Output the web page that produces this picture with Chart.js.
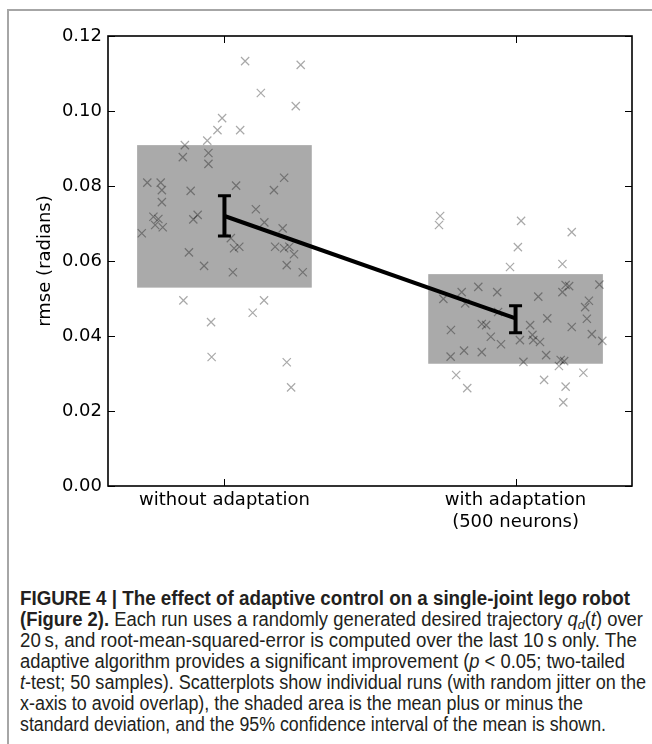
<!DOCTYPE html>
<html><head><meta charset="utf-8">
<script src="https://cdn.jsdelivr.net/npm/chart.js@4/dist/chart.umd.min.js"></script>
<style>
html,body{margin:0;padding:0;background:#fff;}
body{width:652px;height:744px;position:relative;overflow:hidden;}
#frame{position:absolute;left:7px;top:9px;width:700px;height:800px;border-left:2px solid #a6a6a6;border-top:2px solid #a6a6a6;}
#wrap{position:absolute;left:0;top:0;width:652px;height:540px;}
.cap{position:absolute;left:20px;white-space:nowrap;font-family:"Liberation Sans",Arial,sans-serif;font-size:19.5px;line-height:22px;color:#231f20;transform-origin:0 50%;}
.cap sub{font-size:13px;vertical-align:-3px;line-height:0;}
</style></head>
<body>
<div id="frame"></div>
<div id="wrap"><canvas id="c" width="652" height="540"></canvas></div>
<div class="cap" data-w="610" style="top:587px"><b>FIGURE 4 | The effect of adaptive control on a single-joint lego robot</b></div>
<div class="cap" data-w="623" style="top:608px"><b>(Figure 2).</b> Each run uses a randomly generated desired trajectory <i>q<sub>d</sub></i>(<i>t</i>) over</div>
<div class="cap" data-w="617" style="top:629px">20&#8201;s, and root-mean-squared-error is computed over the last 10&#8201;s only. The</div>
<div class="cap" data-w="605" style="top:650px">adaptive algorithm provides a significant improvement (<i>p</i> &lt; 0.05; two-tailed</div>
<div class="cap" data-w="626" style="top:671px"><i>t</i>-test; 50 samples). Scatterplots show individual runs (with random jitter on the</div>
<div class="cap" data-w="563" style="top:692px">x-axis to avoid overlap), the shaded area is the mean plus or minus the</div>
<div class="cap" data-w="586" style="top:713px">standard deviation, and the 95% confidence interval of the mean is shown.</div>
<script>
// ---- data ----
const categories = ["without adaptation", ["with adaptation", "(500 neurons)"]];
const yTicks = [0.00, 0.02, 0.04, 0.06, 0.08, 0.10, 0.12];

const meanRmse = [0.0720, 0.0447];
const sdLow    = [0.0529, 0.0326];
const sdHigh   = [0.0909, 0.0565];
const ciLow    = [0.0667, 0.0409];
const ciHigh   = [0.0774, 0.0481];

// individual runs: x jitter (relative to category) and rmse
const withoutJitter = [0.071,0.262,0.125,0.245,-0.008,-0.024,0.054,-0.059,-0.136,-0.143,-0.055,-0.055,-0.265,-0.219,-0.215,-0.116,0.040,0.170,0.205,-0.215,0.108,-0.244,-0.227,-0.238,-0.212,-0.107,-0.092,0.137,0.200,-0.284,0.022,0.033,0.051,-0.122,-0.070,0.029,0.174,0.205,0.223,0.239,0.214,0.269,-0.141,0.136,0.097,-0.046,-0.044,0.214,0.229];
const withoutRmse   = [0.1133,0.1123,0.1048,0.1013,0.0981,0.0949,0.0949,0.0921,0.0909,0.0877,0.0888,0.0859,0.0809,0.0809,0.0789,0.0787,0.0801,0.0789,0.0822,0.0757,0.0738,0.0718,0.0712,0.0696,0.0690,0.0711,0.0723,0.0703,0.0687,0.0674,0.0661,0.0634,0.0638,0.0623,0.0587,0.0570,0.0638,0.0634,0.0638,0.0618,0.0589,0.0570,0.0495,0.0495,0.0462,0.0437,0.0344,0.0330,0.0263];
const withJitter = [-0.259,-0.263,0.019,0.193,0.008,-0.019,0.161,0.172,0.184,0.161,0.288,-0.128,-0.185,-0.248,-0.063,0.078,-0.173,0.252,0.239,0.245,0.109,0.193,0.050,-0.116,-0.101,-0.222,-0.085,-0.050,0.015,0.058,0.061,0.084,0.262,0.298,-0.223,-0.177,-0.116,0.105,0.027,0.155,0.167,0.149,0.233,-0.204,-0.166,0.098,0.172,0.164,-0.060];
const withRmse   = [0.0720,0.0696,0.0707,0.0677,0.0637,0.0584,0.0592,0.0536,0.0533,0.0517,0.0537,0.0531,0.0517,0.0499,0.0517,0.0505,0.0487,0.0494,0.0477,0.0446,0.0447,0.0424,0.0429,0.0432,0.0429,0.0416,0.0398,0.0378,0.0389,0.0403,0.0389,0.0384,0.0405,0.0387,0.0345,0.0361,0.0357,0.0349,0.0331,0.0336,0.0333,0.0320,0.0302,0.0296,0.0261,0.0283,0.0265,0.0223,0.0464];

// ---- build ----
const pts = (jit, vals, c) => jit.map((j, i) => ({x: c + j, y: vals[i]}));
const FONT = {family: "'DejaVu Sans', sans-serif", size: 18};
const BOX_HALF = 0.3;

const decorPlugin = {
  id: 'decor',
  beforeDatasetsDraw(chart) {
    const {ctx, scales: {x, y}} = chart;
    ctx.save();
    ctx.fillStyle = '#aaaaaa';
    meanRmse.forEach((m, i) => {
      const x0 = x.getPixelForValue(i - BOX_HALF), x1 = x.getPixelForValue(i + BOX_HALF);
      const y0 = y.getPixelForValue(sdHigh[i]), y1 = y.getPixelForValue(sdLow[i]);
      ctx.fillRect(x0, y0, x1 - x0, y1 - y0);
    });
    ctx.restore();
  },
  afterDatasetsDraw(chart) {
    const {ctx, scales: {x, y}} = chart;
    ctx.save();
    ctx.strokeStyle = '#000';
    meanRmse.forEach((m, i) => {
      const px = x.getPixelForValue(i);
      const yt = y.getPixelForValue(ciHigh[i]), yb = y.getPixelForValue(ciLow[i]);
      ctx.lineWidth = 4;
      ctx.beginPath(); ctx.moveTo(px, yt); ctx.lineTo(px, yb); ctx.stroke();
      ctx.lineWidth = 3;
      ctx.beginPath();
      ctx.moveTo(px - 6.5, yt); ctx.lineTo(px + 6.5, yt);
      ctx.moveTo(px - 6.5, yb); ctx.lineTo(px + 6.5, yb);
      ctx.stroke();
    });
    ctx.restore();
  },
  afterDraw(chart) {
    const {ctx, chartArea: a, scales: {x, y}} = chart;
    ctx.save();
    ctx.strokeStyle = '#000';
    ctx.lineWidth = 1.6;
    ctx.strokeRect(a.left, a.top, a.right - a.left, a.bottom - a.top);
    ctx.lineWidth = 1;
    ctx.beginPath();
    yTicks.forEach(v => {
      const py = Math.round(y.getPixelForValue(v)) + 0.5;
      ctx.moveTo(a.left, py); ctx.lineTo(a.left + 7, py);
      ctx.moveTo(a.right, py); ctx.lineTo(a.right - 7, py);
    });
    meanRmse.forEach((m, i) => {
      const px = Math.round(x.getPixelForValue(i)) + 0.5;
      ctx.moveTo(px, a.bottom); ctx.lineTo(px, a.bottom - 7);
      ctx.moveTo(px, a.top); ctx.lineTo(px, a.top + 7);
    });
    ctx.stroke();
    ctx.restore();
  }
};

const markerStyle = {
  pointStyle: 'crossRot', pointRadius: 5.8, pointBorderWidth: 1.2,
  borderColor: 'rgba(0,0,0,0.34)', backgroundColor: 'rgba(0,0,0,0.34)', showLine: false
};

new Chart(document.getElementById('c'), {
  type: 'scatter',
  data: {
    datasets: [
      {data: meanRmse.map((m, i) => ({x: i, y: m})), showLine: true, borderColor: '#000',
       borderWidth: 4, pointRadius: 0, order: 0},
      Object.assign({data: pts(withoutJitter, withoutRmse, 0), order: 1}, markerStyle),
      Object.assign({data: pts(withJitter, withRmse, 1), order: 1}, markerStyle)
    ]
  },
  options: {
    responsive: false, animation: false, events: [],
    layout: {padding: {left: 0, right: 20, top: 36, bottom: 0}},
    plugins: {legend: {display: false}, tooltip: {enabled: false}},
    scales: {
      x: {
        type: 'linear', min: -0.4, max: 1.4,
        grid: {display: false, drawTicks: false}, border: {display: false},
        afterBuildTicks: s => { s.ticks = categories.map((c, i) => ({value: i})); },
        afterFit: s => { s.height = 54; },
        ticks: {color: '#000', font: FONT, padding: 4, maxRotation: 0, autoSkip: false,
                callback: (v) => categories[v]}
      },
      y: {
        min: 0, max: 0.12,
        grid: {display: false, drawTicks: false}, border: {display: false},
        afterBuildTicks: s => { s.ticks = yTicks.map(v => ({value: v})); },
        afterFit: s => { s.width = 108; },
        ticks: {color: '#000', font: FONT, padding: 6, callback: v => v.toFixed(2)},
        title: {display: true, text: 'rmse (radians)', color: '#000', font: FONT, padding: {top: 35, bottom: 0}}
      }
    }
  },
  plugins: [decorPlugin]
});

// fit caption lines to their measured widths
document.querySelectorAll('.cap').forEach(el => {
  const w = el.getBoundingClientRect().width;
  const target = parseFloat(el.dataset.w);
  el.style.transform = 'scaleX(' + (target / w) + ')';
});
</script>
</body></html>
